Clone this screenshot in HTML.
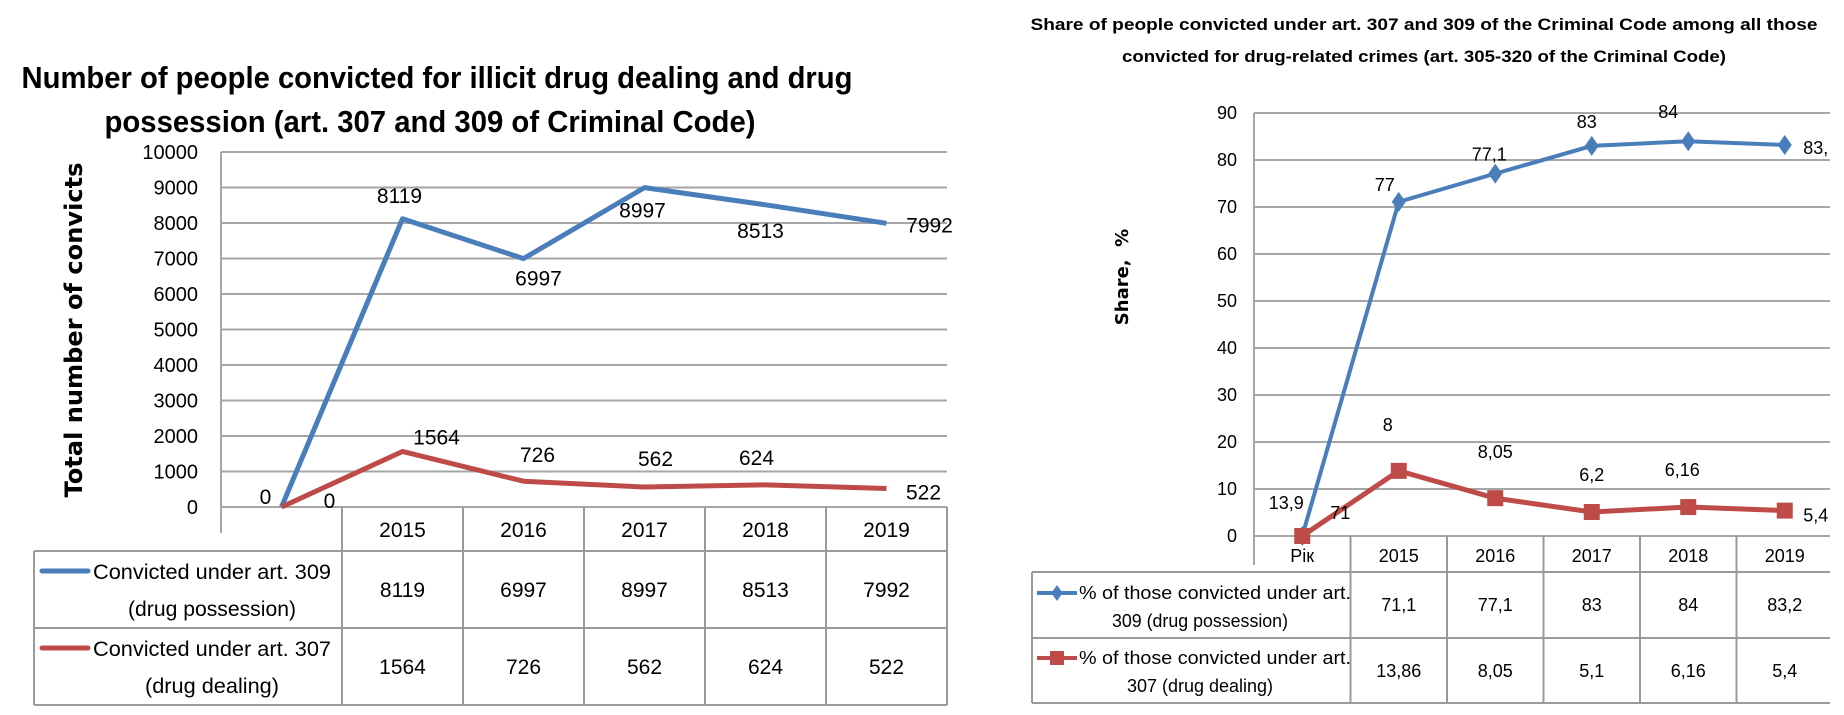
<!DOCTYPE html>
<html><head><meta charset="utf-8"><style>
html,body{margin:0;padding:0;background:#fff;}
svg{display:block;font-family:"Liberation Sans Narrow","Liberation Sans",sans-serif;}
</style></head><body>
<svg id="c" width="1844" height="715" viewBox="0 0 1844 715" xmlns="http://www.w3.org/2000/svg">
<text x="437" y="88" text-anchor="middle" font-size="31" font-weight="bold" fill="#000" textLength="831" lengthAdjust="spacingAndGlyphs">Number of people convicted for illicit drug dealing and drug</text>
<text x="430" y="132" text-anchor="middle" font-size="31" font-weight="bold" fill="#000" textLength="651" lengthAdjust="spacingAndGlyphs">possession (art. 307 and 309 of Criminal Code)</text>
<text transform="translate(82,330) rotate(-90)" text-anchor="middle" font-family="DejaVu Sans,sans-serif" font-size="24" font-weight="bold" fill="#000" textLength="335" lengthAdjust="spacingAndGlyphs">Total number of convicts</text>
<text x="1424" y="30" text-anchor="middle" font-size="17" font-weight="bold" fill="#000" textLength="787" lengthAdjust="spacingAndGlyphs">Share of people convicted under art. 307 and 309 of the Criminal Code among all those</text>
<text x="1424" y="62" text-anchor="middle" font-size="17" font-weight="bold" fill="#000" textLength="604" lengthAdjust="spacingAndGlyphs">convicted for drug-related crimes (art. 305-320 of the Criminal Code)</text>
<text transform="translate(1128,277) rotate(-90)" text-anchor="middle" font-family="DejaVu Sans,sans-serif" font-size="18" font-weight="bold" fill="#000" xml:space="preserve">Share,  %</text>
<g id="L"></g><g id="R"></g>
</svg>
<script>
// Left chart data
const lCats=["","2015","2016","2017","2018","2019"];
const lPossession=[0,8119,6997,8997,8513,7992];
const lDealing=[0,1564,726,562,624,522];
const lPossLabels=["0","8119","6997","8997","8513","7992"];
const lDealLabels=["0","1564","726","562","624","522"];
const lTicks=[0,1000,2000,3000,4000,5000,6000,7000,8000,9000,10000];
// Right chart data
const rCats=["Рік","2015","2016","2017","2018","2019"];
const rPossession=[0,71.1,77.1,83,84,83.2];
const rDealing=[0,13.86,8.05,5.1,6.16,5.4];
const rPossLabels=["13,9","77","77,1","83","84","83,"];
const rDealLabels=["71","8","8,05","6,2","6,16","5,4"];
const rPossTable=["71,1","77,1","83","84","83,2"];
const rDealTable=["13,86","8,05","5,1","6,16","5,4"];
const rTicks=[0,10,20,30,40,50,60,70,80,90];

const NS="http://www.w3.org/2000/svg";
function mk(p,tag,a,txt){const e=document.createElementNS(NS,tag);for(const k in a)e.setAttribute(k,a[k]);if(txt!==undefined)e.textContent=txt;p.appendChild(e);return e;}
const BLUE="#4a7ebb",RED="#be4b48",GRID="#a6a6a6",TBL="#9a9a9a";

// ---------- LEFT ----------
(function(){
const g=document.getElementById('L');
const x0=221,cw=121,y0=507,yTop=152,yMax=10000;
const X=i=>x0+cw*(i+0.5);
const Y=v=>y0-(v/yMax)*(y0-yTop);
const xr=x0+cw*lCats.length;
lTicks.forEach(t=>{
 const l=mk(g,'line',{x1:x0,x2:xr,y1:Y(t),y2:Y(t),stroke:GRID,'stroke-width':2});
 
 
 const tx=mk(g,'text',{x:198,y:Y(t)+7,'text-anchor':'end','font-size':20},String(t));
 
 
});
mk(g,'line',{x1:x0,x2:x0,y1:yTop,y2:533,stroke:GRID,'stroke-width':2});
const tt=551,tr1=628,tb=705,tl=34;
[tt,tr1,tb].forEach(y=>mk(g,'line',{x1:tl,x2:xr,y1:y,y2:y,stroke:TBL,'stroke-width':2}));
mk(g,'line',{x1:tl,x2:tl,y1:tt,y2:tb,stroke:TBL,'stroke-width':2});
for(let i=1;i<=lCats.length;i++){mk(g,'line',{x1:x0+cw*i,x2:x0+cw*i,y1:y0,y2:tb,stroke:TBL,'stroke-width':2});}
lCats.forEach((c,i)=>{if(!c)return;
 const t=mk(g,'text',{x:X(i),y:537,'text-anchor':'middle','font-size':21},c);
 
 
 const a=mk(g,'text',{x:X(i),y:597,'text-anchor':'middle','font-size':21},String(lPossession[i]));
 
 
 const b=mk(g,'text',{x:X(i),y:674,'text-anchor':'middle','font-size':21},String(lDealing[i]));
 
 
});
const lg1=mk(g,'line',{x1:42,x2:88,y1:571,y2:571,stroke:BLUE,'stroke-width':5,'stroke-linecap':'round'});

const lt1=mk(g,'text',{x:93,y:579,'font-size':21,textLength:238,lengthAdjust:'spacingAndGlyphs'},'Convicted under art. 309');

mk(g,'text',{x:212,y:616,'text-anchor':'middle','font-size':21,textLength:168,lengthAdjust:'spacingAndGlyphs'},'(drug possession)');
const lg2=mk(g,'line',{x1:42,x2:88,y1:648,y2:648,stroke:RED,'stroke-width':5,'stroke-linecap':'round'});

const lt2=mk(g,'text',{x:93,y:656,'font-size':21,textLength:238,lengthAdjust:'spacingAndGlyphs'},'Convicted under art. 307');

mk(g,'text',{x:212,y:693,'text-anchor':'middle','font-size':21,textLength:134,lengthAdjust:'spacingAndGlyphs'},'(drug dealing)');
const l1=mk(g,'polyline',{points:lPossession.map((v,i)=>X(i)+','+Y(v)).join(' '),fill:'none',stroke:BLUE,'stroke-width':5,'stroke-linejoin':'round'});

const l2=mk(g,'polyline',{points:lDealing.map((v,i)=>X(i)+','+Y(v)).join(' '),fill:'none',stroke:RED,'stroke-width':5,'stroke-linejoin':'round'});

const po=[[-16,-10],[-3,-23],[15,20],[-2,23],[-5,26],[43,2]];
const dof=[[48,-6],[34,-14],[14,-26],[11,-28],[-9,-27],[37,4]];
lPossLabels.forEach((s,i)=>{const t=mk(g,'text',{x:X(i)+po[i][0],y:Y(lPossession[i])+po[i][1]+7,'text-anchor':'middle','font-size':21},s);
 });
lDealLabels.forEach((s,i)=>{const t=mk(g,'text',{x:X(i)+dof[i][0],y:Y(lDealing[i])+dof[i][1]+7,'text-anchor':'middle','font-size':21},s);
 });
})();

// ---------- RIGHT ----------
(function(){
const g=document.getElementById('R');
const x0=1254,cw=96.5,y0=536,yTop=113,yMax=90;
const X=i=>x0+cw*(i+0.5);
const Y=v=>y0-(v/yMax)*(y0-yTop);
const xr=1830;
rTicks.forEach(t=>{
 const l=mk(g,'line',{x1:x0,x2:xr,y1:Y(t),y2:Y(t),stroke:GRID,'stroke-width':2});
 
 const tx=mk(g,'text',{x:1237,y:Y(t)+6,'text-anchor':'end','font-size':18},String(t));
 
});
mk(g,'line',{x1:x0,x2:x0,y1:yTop,y2:565,stroke:GRID,'stroke-width':2});
const tt=572,tr1=638,tb=703,tl=1032;
[tt,tr1,tb].forEach(y=>mk(g,'line',{x1:tl,x2:xr,y1:y,y2:y,stroke:TBL,'stroke-width':2}));
mk(g,'line',{x1:tl,x2:tl,y1:tt,y2:tb,stroke:TBL,'stroke-width':2});
for(let i=1;i<rCats.length;i++){mk(g,'line',{x1:x0+cw*i,x2:x0+cw*i,y1:y0,y2:tb,stroke:TBL,'stroke-width':2});}
rCats.forEach((c,i)=>{const t=mk(g,'text',{x:X(i),y:562,'text-anchor':'middle','font-size':18},c);
 });
rPossTable.forEach((s,i)=>{const t=mk(g,'text',{x:X(i+1),y:611,'text-anchor':'middle','font-size':18},s);
 });
rDealTable.forEach((s,i)=>{const t=mk(g,'text',{x:X(i+1),y:677,'text-anchor':'middle','font-size':18},s);
 });
function diamond(cx,cy,r,col){return mk(g,'polygon',{points:`${cx},${cy-r} ${cx+r*0.7},${cy} ${cx},${cy+r} ${cx-r*0.7},${cy}`,fill:col});}
function square(cx,cy,r,col){return mk(g,'rect',{x:cx-r,y:cy-r,width:2*r,height:2*r,fill:col});}
mk(g,'line',{x1:1037,x2:1077,y1:593,y2:593,stroke:BLUE,'stroke-width':4});
const d0=diamond(1057,593,8,BLUE);
mk(g,'text',{x:1079,y:599,'font-size':18,textLength:272,lengthAdjust:'spacingAndGlyphs'},'% of those convicted under art.');
mk(g,'text',{x:1200,y:627,'text-anchor':'middle','font-size':18,textLength:176,lengthAdjust:'spacingAndGlyphs'},'309 (drug possession)');
mk(g,'line',{x1:1037,x2:1077,y1:658,y2:658,stroke:RED,'stroke-width':4});
const s0=square(1057,658,7,RED);
mk(g,'text',{x:1079,y:664,'font-size':18,textLength:272,lengthAdjust:'spacingAndGlyphs'},'% of those convicted under art.');
mk(g,'text',{x:1200,y:692,'text-anchor':'middle','font-size':18,textLength:146,lengthAdjust:'spacingAndGlyphs'},'307 (drug dealing)');
const l1=mk(g,'polyline',{points:rPossession.map((v,i)=>X(i)+','+Y(v)).join(' '),fill:'none',stroke:BLUE,'stroke-width':4});

const l2=mk(g,'polyline',{points:rDealing.map((v,i)=>X(i)+','+Y(v)).join(' '),fill:'none',stroke:RED,'stroke-width':5});

rPossession.forEach((v,i)=>{const m=diamond(X(i),Y(v),10,BLUE);
 });
rDealing.forEach((v,i)=>{const m=square(X(i),Y(v),8,RED);
 });
const po=[[-16,-33],[-14,-17],[-6,-19],[-5,-24],[-20,-29],[31,3]];
const dof=[[38,-23],[-11,-46],[0,-46],[0,-37],[-6,-37],[31,5]];
rPossLabels.forEach((s,i)=>{const t=mk(g,'text',{x:X(i)+po[i][0],y:Y(rPossession[i])+po[i][1]+6,'text-anchor':'middle','font-size':18},s);
 });
rDealLabels.forEach((s,i)=>{const t=mk(g,'text',{x:X(i)+dof[i][0],y:Y(rDealing[i])+dof[i][1]+6,'text-anchor':'middle','font-size':18},s);
 });
})();
</script>
</body></html>
